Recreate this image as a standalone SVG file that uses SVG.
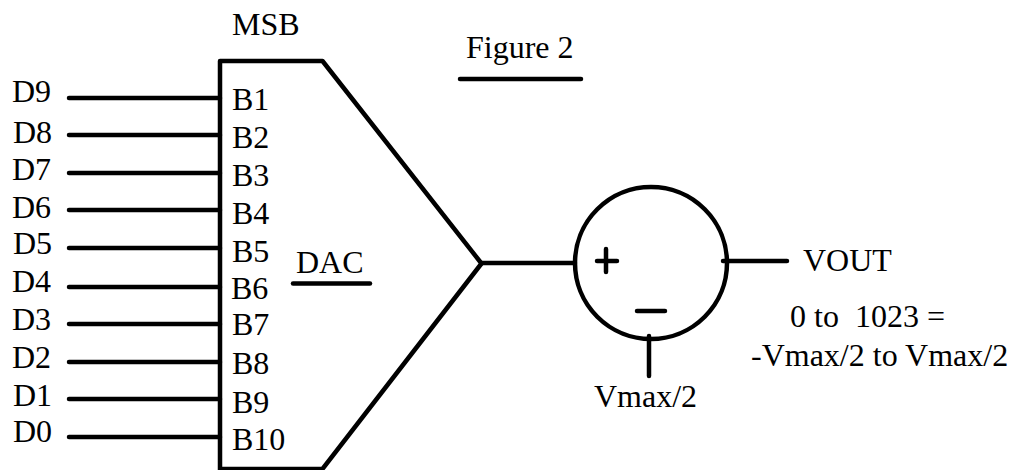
<svg xmlns="http://www.w3.org/2000/svg" width="1012" height="470" viewBox="0 0 1012 470">
<style>
text{font-family:"Liberation Serif","Times New Roman",serif;font-size:32px;fill:#000}
.l{fill:none;stroke:#000;stroke-width:4.5;stroke-linecap:round;stroke-linejoin:round}
</style>
<rect width="1012" height="470" fill="#fff"/>
<g id="connectors">
<path class="l" d="M69 98H220M69 135H220M69 173H220M69 210H220M69 248H220M69 287H220M69 324H220M69 362H220M69 399H220M69 437H220"/>
<path class="l" d="M482 263H575M723 261H787M649 336V376"/>
</g>
<g id="dac">
<path class="l" d="M220 470V61H322.500L481.500 263.500L322.500 469H220"/>
<text x="232" y="35">MSB</text>
<text x="232" y="110">B1</text><text x="232" y="148">B2</text><text x="232" y="186">B3</text><text x="232" y="224">B4</text><text x="232" y="262">B5</text><text x="231" y="299">B6</text><text x="232" y="335">B7</text><text x="232" y="374">B8</text><text x="232" y="413">B9</text><text x="232" y="450">B10</text>
<text x="296" y="273">DAC</text>
<path class="l" d="M293 283.500H370"/>
</g>
<g id="inputs">
<text x="12" y="102">D9</text><text x="13" y="143">D8</text><text x="12" y="180">D7</text><text x="12" y="218">D6</text><text x="13" y="254">D5</text><text x="12" y="292">D4</text><text x="12" y="330">D3</text><text x="12" y="368">D2</text><text x="13" y="406">D1</text><text x="13" y="442">D0</text>
</g>
<g id="summer">
<circle class="l" cx="651" cy="263" r="76"/>
<path class="l" d="M597 261H617M606 249V272M637 311H665"/>
</g>
<g id="labels">
<text x="466" y="58">Figure 2</text>
<path class="l" d="M460 79H581"/>
<text x="803" y="271">VOUT</text>
<text x="790" y="327" xml:space="preserve">0 to  1023 =</text>
<text x="751" y="366">-Vmax/2 to Vmax/2</text>
<text x="594" y="407">Vmax/2</text>
</g>
</svg>
